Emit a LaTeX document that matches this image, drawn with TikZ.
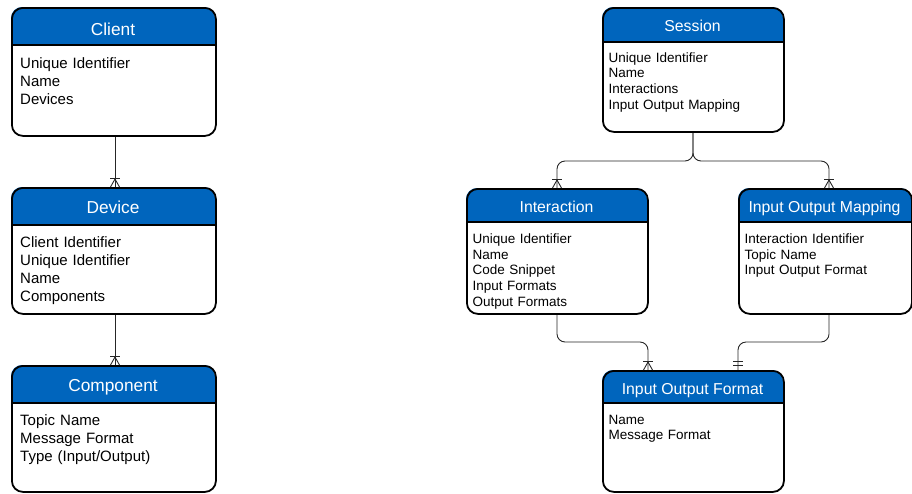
\documentclass[tikz,border=0pt]{standalone}
\usepackage{fontspec}
\setmainfont{Liberation Sans}
\definecolor{hdrblue}{RGB}{0,101,189}
\tikzset{
  entbox/.style={draw=black, line width=1.8pt, rounded corners=11pt},
  hdrfill/.style={fill=hdrblue},
  sepline/.style={draw=black, line width=1.5pt},
  conn/.style={draw=black!85, line width=0.9pt, rounded corners=8pt},
  crowmark/.style={draw=black!85, line width=0.9pt},
  bigtitle/.style={text=white, font=\fontsize{17.3}{20}\selectfont, anchor=base, inner sep=0pt},
  smalltitle/.style={text=white, font=\fontsize{15.8}{19}\selectfont, anchor=base, inner sep=0pt},
  bigbody/.style={font=\fontsize{15}{18}\selectfont, anchor=base west, inner sep=0pt, text width=190pt, align=left},
  smallbody/.style={font=\fontsize{13.5}{15.8}\selectfont, anchor=base west, inner sep=0pt, text width=170pt, align=left},
}
% #1 name, #2 left, #3 top, #4 right, #5 bottom, #6 header bottom
\newcommand{\erentity}[6]{%
  \pgfmathsetmacro{\erW}{#4-#2}%
  \pgfmathsetmacro{\erH}{#5-#3}%
  \fill[hdrfill] (#2,#6) [rounded corners=11pt] -- (#2,#3) -- (#4,#3) [sharp corners] -- (#4,#6) -- cycle;
  \draw[sepline] (#2,#6) -- (#4,#6);
  \node[entbox, inner sep=0pt, minimum width=\erW pt, minimum height=\erH pt, anchor=north west] (#1) at (#2,#3) {};
}
\begin{document}
\begin{tikzpicture}[x=1pt, y=-1pt]
\useasboundingbox (0,0) rectangle (912,493);

% ---- entities ----
\erentity{client}{11}{7}{215}{135}{45}
\erentity{device}{11}{187}{215}{313}{225}
\erentity{component}{11}{365}{215}{491}{403}
\erentity{session}{602}{7}{783}{131}{42}
\erentity{interaction}{466}{188}{647}{313}{222}
\erentity{mapping}{738}{188}{911}{313}{222}
\erentity{iof}{602}{370}{783}{491}{403}

% ---- titles ----
\node[bigtitle] (clientT) at (113,35) {Client};
\node[bigtitle] (deviceT) at (113,213.5) {Device};
\node[bigtitle] (componentT) at (113,391.5) {Component};
\node[smalltitle] (sessionT) at (692.5,31) {Session};
\node[smalltitle] (interactionT) at (556.5,212.5) {Interaction};
\node[smalltitle] (mappingT) at (824.5,212.5) {Input Output Mapping};
\node[smalltitle] (iofT) at (692.5,394) {Input Output Format};

% ---- bodies ----
\node[bigbody] (clientB) at (20,68.5) {Unique Identifier\\Name\\Devices};
\node[bigbody] (deviceB) at (20,247) {Client Identifier\\Unique Identifier\\Name\\Components};
\node[bigbody] (componentB) at (20,425) {Topic Name\\Message Format\\Type (Input/Output)};
\node[smallbody] (sessionB) at (608.5,62) {Unique Identifier\\Name\\Interactions\\Input Output Mapping};
\node[smallbody] (interactionB) at (472.5,243.3) {Unique Identifier\\Name\\Code Snippet\\Input Formats\\Output Formats};
\node[smallbody] (mappingB) at (744.5,243.3) {Interaction Identifier\\Topic Name\\Input Output Format};
\node[smallbody] (iofB) at (608.5,424) {Name\\Message Format};

% ---- connector waypoints ----
\coordinate (sj) at (693,161);
\coordinate (sl) at (557,161);
\coordinate (sr) at (829,161);
\coordinate (il) at (557,342);
\coordinate (ir) at (648,342);
\coordinate (ml) at (829,342);
\coordinate (mr) at (738,342);

% ---- connectors ----
\draw[conn] (115,0 |- client.south) -- (115,0 |- device.north);
\draw[conn] (115,0 |- device.south) -- (115,0 |- component.north);
\draw[conn] (sj |- session.south) -- (sj) -- (sl) -- (sl |- interaction.north);
\draw[conn] (sj |- session.south) -- (sj) -- (sr) -- (sr |- mapping.north);
\draw[conn] (il |- interaction.south) -- (il) -- (ir) -- (ir |- iof.north);
\draw[conn] (ml |- mapping.south) -- (ml) -- (mr) -- (mr |- iof.north);

% ---- crow's feet (one or many) ----
\foreach \cx/\ty in {115/187, 115/365, 557/188, 829/188, 648/370}{
  \draw[crowmark] (\cx-5,\ty-9) -- (\cx+5,\ty-9);
  \draw[crowmark] (\cx,\ty-8) -- (\cx-4.5,\ty);
  \draw[crowmark] (\cx,\ty-8) -- (\cx+4.5,\ty);
}
% ---- one and only one ----
\draw[crowmark] (733,361.7) -- (743,361.7);
\draw[crowmark] (733,365.7) -- (743,365.7);
\end{tikzpicture}
\end{document}
